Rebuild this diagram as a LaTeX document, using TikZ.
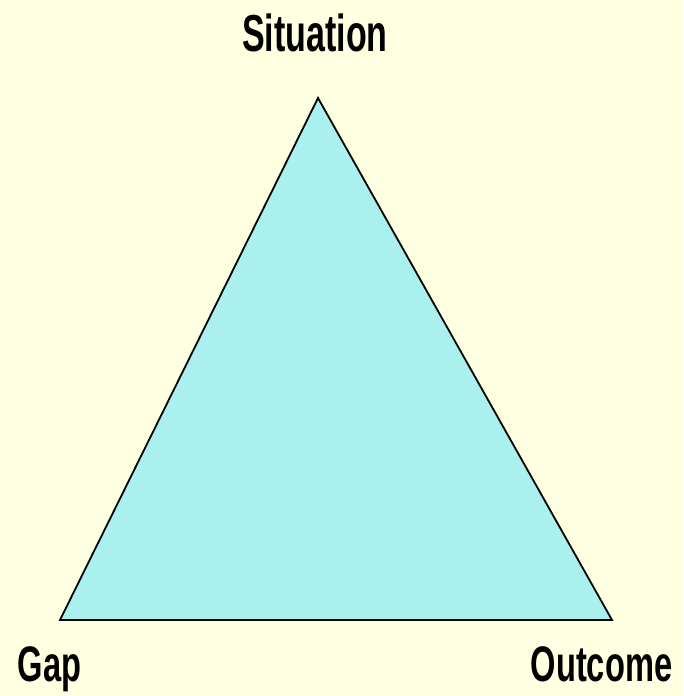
\documentclass[tikz,border=0pt]{standalone}
\usepackage{fontspec}
\setmainfont{Liberation Sans}
\definecolor{bgyellow}{RGB}{255,255,225}
\definecolor{tricyan}{RGB}{170,240,238}
\begin{document}
\begin{tikzpicture}[x=1pt,y=1pt,
  lbl/.style={font=\fontsize{48}{50}\selectfont\bfseries, xscale=0.68, yscale=1.04, anchor=base, inner sep=0pt}]
\fill[bgyellow] (0,0) rectangle (683,696);
\useasboundingbox (0,0) rectangle (683,696);
\coordinate (S) at (318,598);
\coordinate (G) at (60,76);
\coordinate (O) at (612,76);
\filldraw[fill=tricyan, draw=black, line width=1.8pt, line join=miter] (S) -- (G) -- (O) -- cycle;
\draw[line width=2.6pt] (G) -- (O);
\node[lbl, font=\fontsize{50}{52}\selectfont\bfseries] (sit) at (315,644) {Situation};
\node[lbl] (gap) at (49.5,14) {Gap};
\node[lbl] (out) at (601.5,14) {Outcome};
\end{tikzpicture}
\end{document}
